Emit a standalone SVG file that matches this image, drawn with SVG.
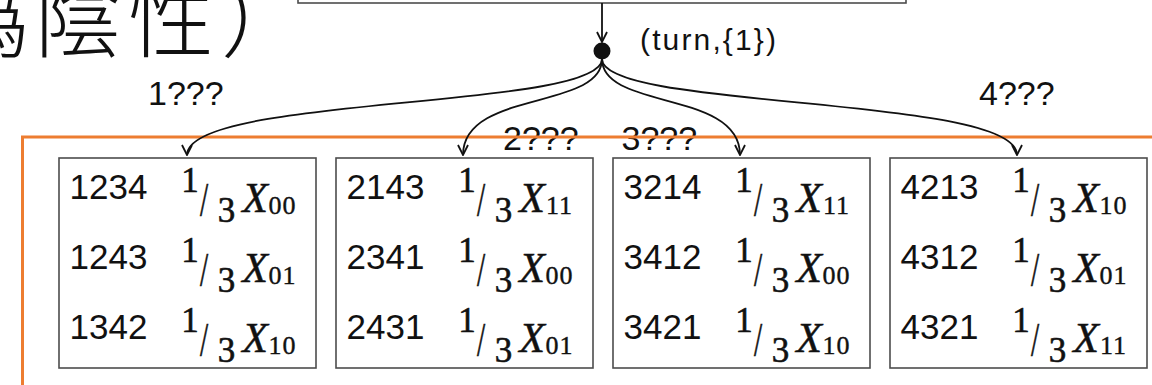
<svg xmlns="http://www.w3.org/2000/svg" width="1152" height="385" viewBox="0 0 1152 385">
<style>
.box{fill:#fff;stroke:#4d4d4d;stroke-width:1.6}
.num{font-family:"Liberation Sans",Arial,sans-serif;font-size:35px;fill:#111}
.lbl{font-family:"Liberation Sans",Arial,sans-serif;font-size:34px;fill:#111}
.f{font-family:"Liberation Serif","Times New Roman",serif;font-size:35px;fill:#111;stroke:#111;stroke-width:0.6;text-anchor:middle}
.sl{font-family:"Liberation Serif","Times New Roman",serif;font-size:49px;fill:#111;stroke:#111;stroke-width:0.6;text-anchor:middle}
.x{font-family:"Liberation Serif","Times New Roman",serif;font-style:italic;font-size:42px;fill:#111;stroke:#111;stroke-width:0.5;text-anchor:middle}
.sub{font-family:"Liberation Serif","Times New Roman",serif;font-size:26px;letter-spacing:1px;fill:#111;stroke:#111;stroke-width:0.4;text-anchor:middle}
.con{fill:none;stroke:#111;stroke-width:1.8}
.cjk{font-family:"Noto Sans CJK JP","Noto Sans CJK SC",sans-serif;font-weight:300;font-size:86px;letter-spacing:7px;fill:#111}
</style>
<defs>
<marker id="arr" viewBox="0 0 12 12" refX="11" refY="6" markerWidth="12" markerHeight="12" markerUnits="userSpaceOnUse" orient="auto">
<path d="M1,1 L11,6 L1,11" fill="none" stroke="#111" stroke-width="1.8"/>
</marker>
</defs>
<rect width="1152" height="385" fill="#fff"/>
<text class="cjk" x="-58" y="51">偽陰性）</text>
<g id="top-node"><rect class="box" x="298" y="-50" width="608" height="53"/></g>
<g id="labels">
<text class="lbl" x="148" y="105">1???</text>
<text class="lbl" x="979" y="105">4???</text>
<text class="lbl" x="503" y="150">2???</text>
<text class="lbl" x="621.5" y="150">3???</text>
<text style="font-family:'Liberation Sans',Arial,sans-serif;font-size:30px;fill:#111" x="640" y="50" textLength="136" lengthAdjust="spacing">(turn,{1})</text>
</g>
<g id="frame"><rect x="22.5" y="137" width="1200" height="400" fill="none" stroke="#ED7D31" stroke-width="3"/></g>
<g id="box1">
<rect class="box" x="59" y="158" width="257" height="210"/>
<text class="num" x="69.5" y="199">1234</text><text class="f" x="190" y="192">1</text><text class="sl" transform="translate(204,216) scale(0.6,1)">/</text><text class="f" x="226.5" y="222">3</text><text class="x" x="255" y="212">X</text><text class="sub" x="282.5" y="214">00</text>
<text class="num" x="69.5" y="269">1243</text><text class="f" x="190" y="262">1</text><text class="sl" transform="translate(204,286) scale(0.6,1)">/</text><text class="f" x="226.5" y="292">3</text><text class="x" x="255" y="282">X</text><text class="sub" x="282.5" y="284">01</text>
<text class="num" x="69.5" y="339">1342</text><text class="f" x="190" y="332">1</text><text class="sl" transform="translate(204,356) scale(0.6,1)">/</text><text class="f" x="226.5" y="362">3</text><text class="x" x="255" y="352">X</text><text class="sub" x="282.5" y="354">10</text>
</g>
<g id="box2">
<rect class="box" x="336" y="158" width="257" height="210"/>
<text class="num" x="346.5" y="199">2143</text><text class="f" x="467" y="192">1</text><text class="sl" transform="translate(481,216) scale(0.6,1)">/</text><text class="f" x="503.5" y="222">3</text><text class="x" x="532" y="212">X</text><text class="sub" x="559.5" y="214">11</text>
<text class="num" x="346.5" y="269">2341</text><text class="f" x="467" y="262">1</text><text class="sl" transform="translate(481,286) scale(0.6,1)">/</text><text class="f" x="503.5" y="292">3</text><text class="x" x="532" y="282">X</text><text class="sub" x="559.5" y="284">00</text>
<text class="num" x="346.5" y="339">2431</text><text class="f" x="467" y="332">1</text><text class="sl" transform="translate(481,356) scale(0.6,1)">/</text><text class="f" x="503.5" y="362">3</text><text class="x" x="532" y="352">X</text><text class="sub" x="559.5" y="354">01</text>
</g>
<g id="box3">
<rect class="box" x="613" y="158" width="257" height="210"/>
<text class="num" x="623.5" y="199">3214</text><text class="f" x="744" y="192">1</text><text class="sl" transform="translate(758,216) scale(0.6,1)">/</text><text class="f" x="780.5" y="222">3</text><text class="x" x="809" y="212">X</text><text class="sub" x="836.5" y="214">11</text>
<text class="num" x="623.5" y="269">3412</text><text class="f" x="744" y="262">1</text><text class="sl" transform="translate(758,286) scale(0.6,1)">/</text><text class="f" x="780.5" y="292">3</text><text class="x" x="809" y="282">X</text><text class="sub" x="836.5" y="284">00</text>
<text class="num" x="623.5" y="339">3421</text><text class="f" x="744" y="332">1</text><text class="sl" transform="translate(758,356) scale(0.6,1)">/</text><text class="f" x="780.5" y="362">3</text><text class="x" x="809" y="352">X</text><text class="sub" x="836.5" y="354">10</text>
</g>
<g id="box4">
<rect class="box" x="890" y="158" width="257" height="210"/>
<text class="num" x="900.5" y="199">4213</text><text class="f" x="1021" y="192">1</text><text class="sl" transform="translate(1035,216) scale(0.6,1)">/</text><text class="f" x="1057.5" y="222">3</text><text class="x" x="1086" y="212">X</text><text class="sub" x="1113.5" y="214">10</text>
<text class="num" x="900.5" y="269">4312</text><text class="f" x="1021" y="262">1</text><text class="sl" transform="translate(1035,286) scale(0.6,1)">/</text><text class="f" x="1057.5" y="292">3</text><text class="x" x="1086" y="282">X</text><text class="sub" x="1113.5" y="284">01</text>
<text class="num" x="900.5" y="339">4321</text><text class="f" x="1021" y="332">1</text><text class="sl" transform="translate(1035,356) scale(0.6,1)">/</text><text class="f" x="1057.5" y="362">3</text><text class="x" x="1086" y="352">X</text><text class="sub" x="1113.5" y="354">11</text>
</g>
<g id="chance-node"><circle cx="602" cy="51" r="8.5" fill="#111"/></g>
<g id="connectors">
<line class="con" x1="602" y1="3" x2="602" y2="42" marker-end="url(#arr)"/>
<path class="con" d="M602,59 C602,110 187,95 187,155" marker-end="url(#arr)"/>
<path class="con" d="M602,59 C602,110 463,90 463,155" marker-end="url(#arr)"/>
<path class="con" d="M602,59 C602,110 740,90 740,155" marker-end="url(#arr)"/>
<path class="con" d="M602,59 C602,110 1017,95 1017,155" marker-end="url(#arr)"/>
</g>
</svg>
